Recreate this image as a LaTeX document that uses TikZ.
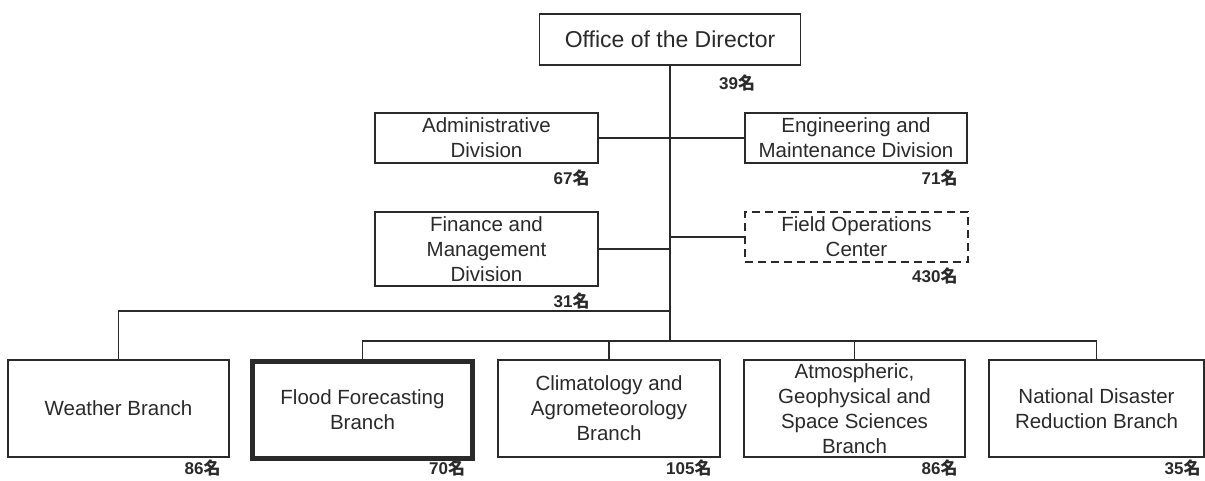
\documentclass[tikz,border=0pt]{standalone}
\usepackage{fontspec}
\setmainfont{Liberation Sans}
\newfontfamily\cjk{Noto Sans CJK JP}
\definecolor{ink}{HTML}{2A2A2A}
\begin{document}
\begin{tikzpicture}[x=1pt,y=-1pt,
  every node/.style={text=ink},
  unit/.style={draw=ink,line width=1.4pt,fill=white,align=center,inner sep=0pt,
    font=\fontsize{20.5}{25}\selectfont},
  fieldunit/.style={unit,dash pattern=on 8pt off 5pt},
  focus/.style={unit,line width=5.5pt},
  staff/.style={anchor=east,inner sep=0pt,font=\fontsize{17}{17}\selectfont},
  link/.style={draw=ink,line width=1.4pt}]
\useasboundingbox (0,0) rectangle (1205,480);

% head office
\node[unit,minimum width=261pt,minimum height=51pt,font=\fontsize{23}{27}\selectfont]
  (dir) at (670,39.5) {Office of the Director};

% divisions
\node[unit,minimum width=223pt,minimum height=50pt] (adm) at (486.5,138) {Administrative\\Division};
\node[unit,minimum width=222pt,minimum height=50pt] (eng) at (856,138) {Engineering and\\Maintenance Division};
\node[unit,minimum width=223pt,minimum height=74pt] (fin) at (486.5,249) {Finance and\\Management\\Division};
\node[fieldunit,minimum width=223pt,minimum height=50pt] (fld) at (856.5,237) {Field Operations\\Center};

% branches
\node[unit,minimum width=221pt,minimum height=97pt] (wx) at (118.5,408.5) {Weather Branch};
\node[focus,minimum width=220pt,minimum height=97pt] (fl) at (362.5,410) {Flood Forecasting\\Branch};
\node[unit,minimum width=222pt,minimum height=97pt] (cl) at (609,408.5) {Climatology and\\Agrometeorology\\Branch};
\node[unit,minimum width=221pt,minimum height=97pt] (at) at (854.5,408.5) {Atmospheric,\\Geophysical and\\Space Sciences\\Branch};
\node[unit,minimum width=215pt,minimum height=97pt] (nd) at (1096.5,408.5) {National Disaster\\Reduction Branch};

% junction points on the trunk
\coordinate (wj) at (670,311);
\coordinate (bus) at (670,341);
\coordinate (staffrow) at (0,468);

% connectors
\draw[link] (dir.south) -- (bus);
\draw[link] (adm.east) -- (eng.west);
\draw[link] (fin.east) -- (fin.east -| bus);
\draw[link] (fld.west) -- (fld.west -| bus);
\draw[link] (wx.north) |- (wj);
\draw[link] (fl.north) |- (bus) -| (nd.north);
\draw[link] (cl.north) -- (cl.north |- bus);
\draw[link] (at.north) -- (at.north |- bus);

% staff numbers
\node[staff] (sdir) at ([xshift=-46pt,yshift=-17pt]dir.south east) {\bfseries 39\cjk 名};
\node[staff] (sadm) at ([xshift=-9pt,yshift=-14pt]adm.south east) {\bfseries 67\cjk 名};
\node[staff] (seng) at ([xshift=-10pt,yshift=-14pt]eng.south east) {\bfseries 71\cjk 名};
\node[staff] (sfin) at ([xshift=-9pt,yshift=-14pt]fin.south east) {\bfseries 31\cjk 名};
\node[staff] (sfld) at ([xshift=-11pt,yshift=-13pt]fld.south east) {\bfseries 430\cjk 名};
\node[staff] (swx) at ([xshift=-9pt]wx.south east |- staffrow) {\bfseries 86\cjk 名};
\node[staff] (sfl) at ([xshift=-10pt]fl.south east |- staffrow) {\bfseries 70\cjk 名};
\node[staff] (scl) at ([xshift=-9pt]cl.south east |- staffrow) {\bfseries 105\cjk 名};
\node[staff] (sat) at ([xshift=-8pt]at.south east |- staffrow) {\bfseries 86\cjk 名};
\node[staff] (snd) at ([xshift=-4pt]nd.south east |- staffrow) {\bfseries 35\cjk 名};
\end{tikzpicture}
\end{document}
